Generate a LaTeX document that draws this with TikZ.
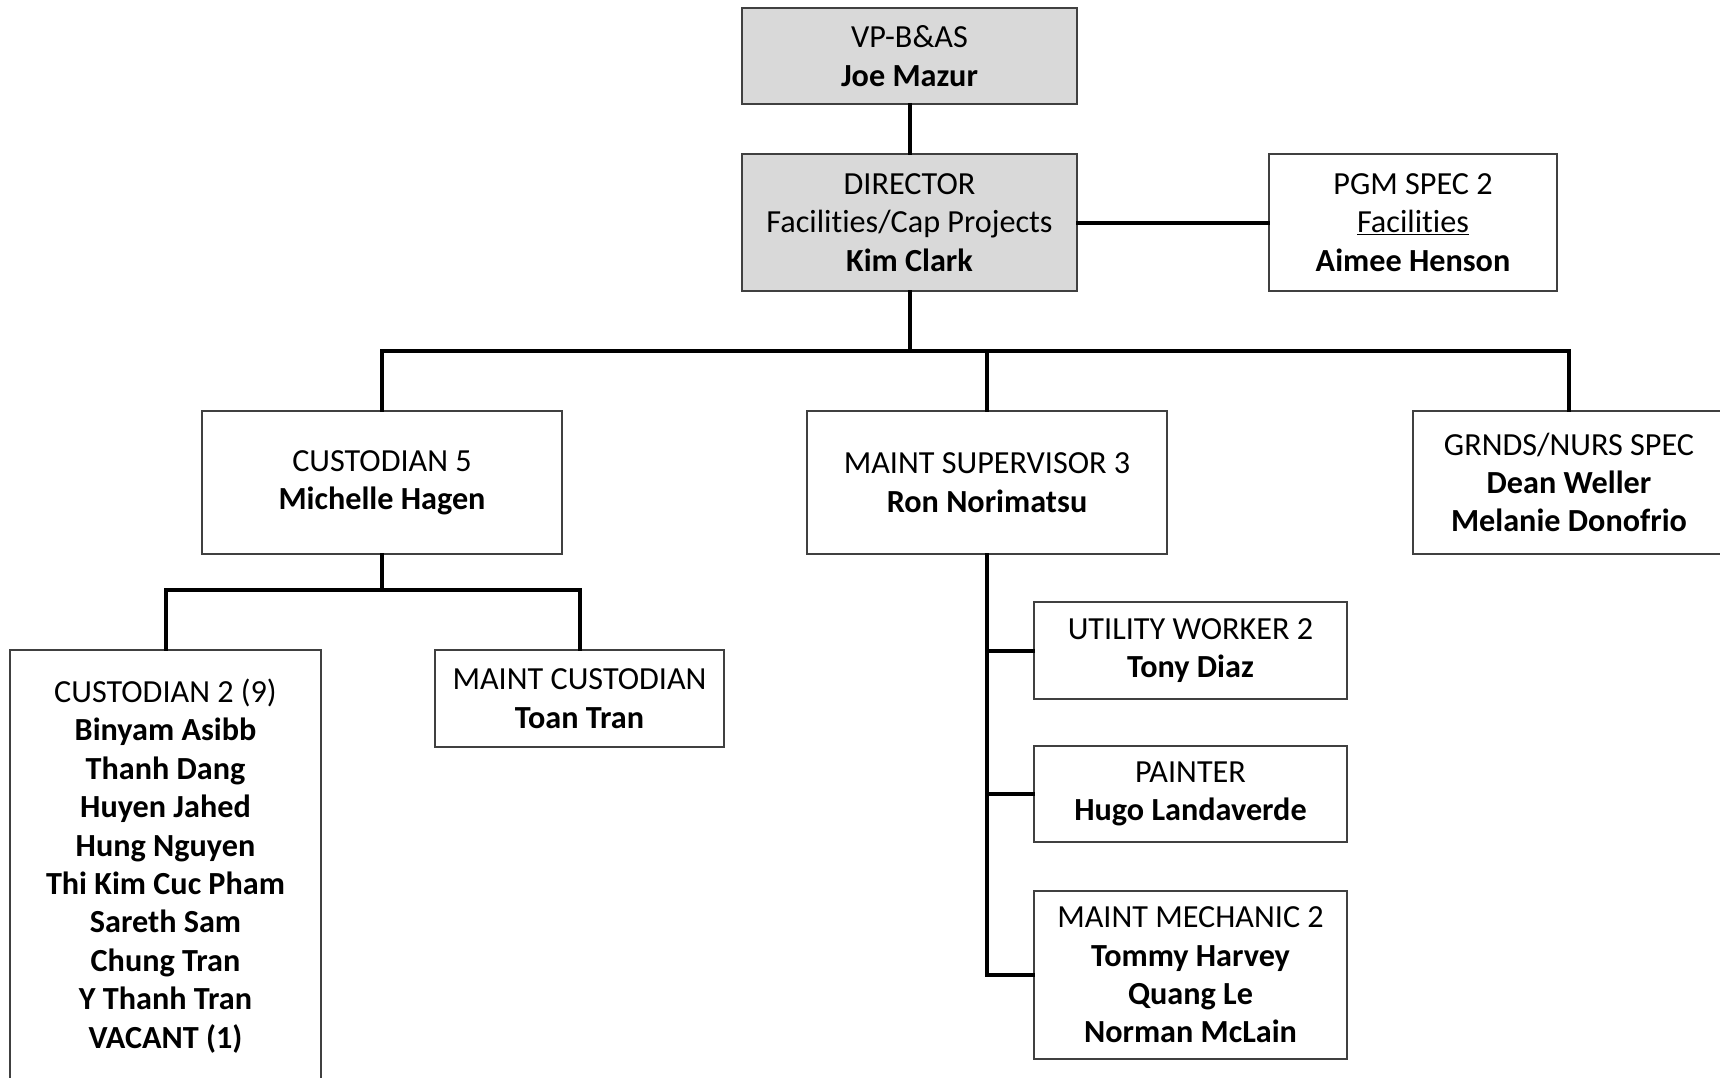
\documentclass[tikz,border=0pt]{standalone}
\usepackage{fontspec}
\setmainfont[Ligatures=NoCommon]{Carlito}
\definecolor{boxline}{HTML}{404040}
\definecolor{boxfill}{HTML}{D9D9D9}
\tikzset{
  orgbox/.style={draw=boxline, line width=1.3pt, fill=white, inner sep=0pt, align=center,
    font=\fontsize{32.2}{38.4}\selectfont},
  graybox/.style={orgbox, fill=boxfill},
  link/.style={line width=4pt, line cap=rect, black},
}
\begin{document}
\begin{tikzpicture}[x=1pt,y=-1pt]
\useasboundingbox (0,0) rectangle (1720,1078);
\clip (0,0) rectangle (1720,1078);
\fill[white] (0,0) rectangle (1720,1078);
% nodes
\node[graybox, minimum width=335pt, minimum height=96pt] (vp) at (909.5,56) {VP-B\&AS\\\textbf{Joe Mazur}};
\node[graybox, minimum width=335pt, minimum height=137pt] (dir) at (909.5,222.5) {DIRECTOR\\Facilities/Cap Projects\\\textbf{Kim Clark}};
\node[orgbox, minimum width=288pt, minimum height=137pt] (pgm) at (1413,222.5) {PGM SPEC 2\\\underline{Facilities}\\\textbf{Aimee Henson}};
\node[orgbox, minimum width=360pt, minimum height=143pt] (cust5) at (382,482.5) {CUSTODIAN 5\\\textbf{Michelle Hagen}};
\node[orgbox, minimum width=360pt, minimum height=143pt] (msup) at (987,482.5) {MAINT SUPERVISOR 3\\\textbf{Ron Norimatsu}};
\node[orgbox, minimum width=312pt, minimum height=143pt] (grnds) at (1569,482.5) {GRNDS/NURS SPEC\\\textbf{Dean Weller}\\\textbf{Melanie Donofrio}};
\node[orgbox, minimum width=311pt, minimum height=432pt] (cust2) at (165.5,866) {CUSTODIAN 2 (9)\\\textbf{Binyam Asibb}\\\textbf{Thanh Dang}\\\textbf{Huyen Jahed}\\\textbf{Hung Nguyen}\\\textbf{Thi Kim Cuc Pham}\\\textbf{Sareth Sam}\\\textbf{Chung Tran}\\\textbf{Y Thanh Tran}\\\textbf{VACANT (1)}};
\node[orgbox, minimum width=289pt, minimum height=97pt] (mcust) at (579.5,698.5) {MAINT CUSTODIAN\\\textbf{Toan Tran}};
\node[orgbox, minimum width=313pt, minimum height=97pt] (util) at (1190.5,650.5) {UTILITY WORKER 2\\\textbf{Tony Diaz}};
\node[orgbox, minimum width=313pt, minimum height=96pt] (paint) at (1190.5,794) {PAINTER\\\textbf{Hugo Landaverde}};
\node[orgbox, minimum width=313pt, minimum height=168pt] (mmech) at (1190.5,975) {MAINT MECHANIC 2\\\textbf{Tommy Harvey}\\\textbf{Quang Le}\\\textbf{Norman McLain}};
% bus coordinates
\coordinate (bus) at (909.5,351);
\coordinate (sub) at (382,590);
% connectors
\draw[link] (vp.south) -- (dir.north);
\draw[link] (dir.east) -- (pgm.west);
\draw[link] (dir.south) -- (bus);
\draw[link] (cust5.north) |- (bus) -| (grnds.north);
\draw[link] (msup.north) -- (msup.north |- bus);
\draw[link] (cust5.south) -- (sub);
\draw[link] (cust2.north) |- (sub) -| (mcust.north);
\draw[link] (msup.south) |- (mmech.west);
\draw[link] (msup.south |- util.west) -- (util.west);
\draw[link] (msup.south |- paint.west) -- (paint.west);
\end{tikzpicture}
\end{document}
